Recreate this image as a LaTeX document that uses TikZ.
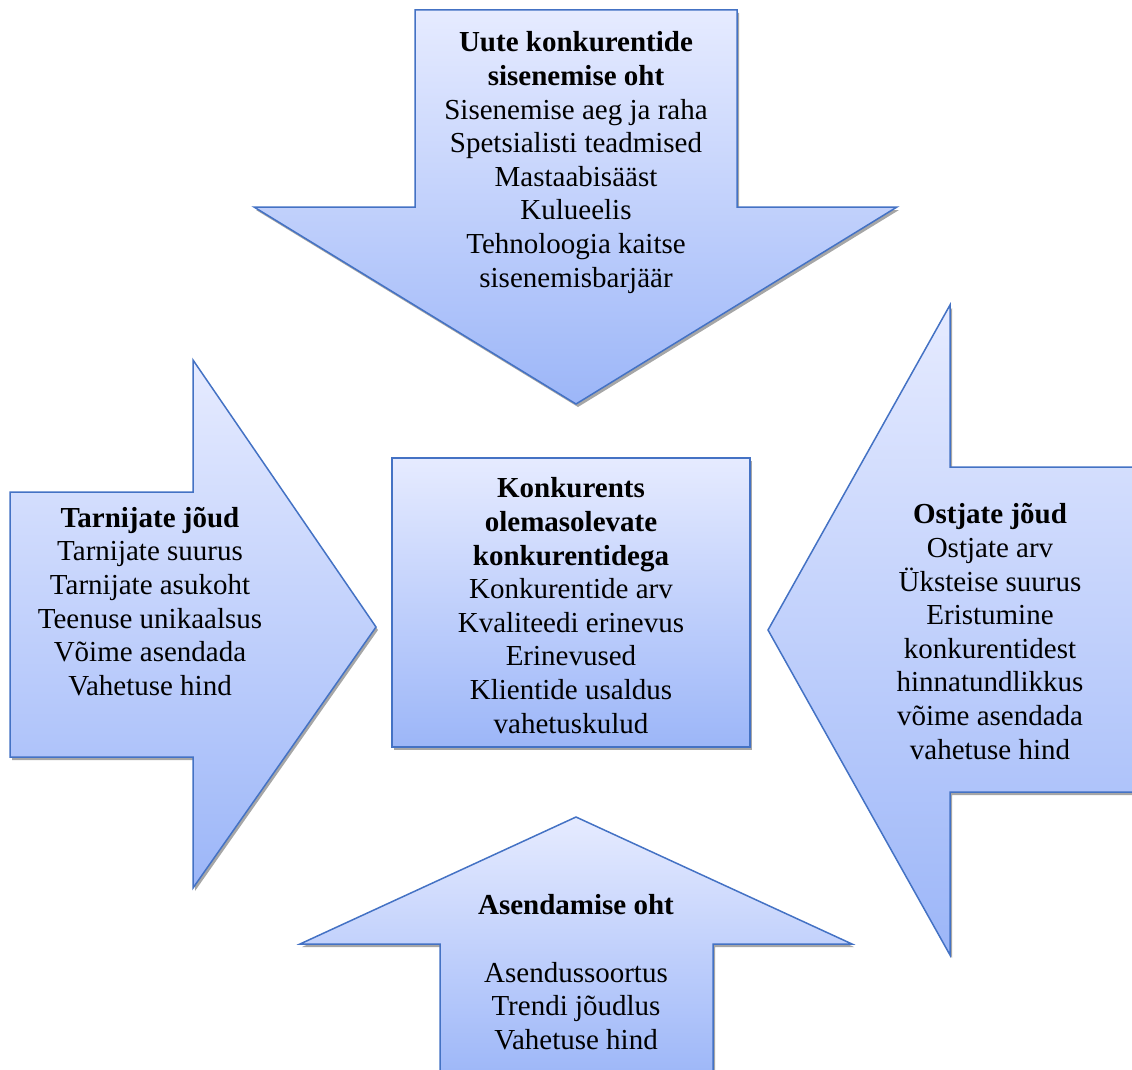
\documentclass[tikz,border=0pt]{standalone}
\usepackage{fontspec}
\setmainfont{Liberation Serif}
\definecolor{edgeblue}{HTML}{4472C4}
\definecolor{ctop}{RGB}{230,235,255}
\definecolor{cbot}{RGB}{156,182,248}
\begin{document}
\begin{tikzpicture}[x=1pt,y=-1pt,
  forceshape/.style={draw=edgeblue, line width=1.5pt, top color=ctop, bottom color=cbot, line join=miter},
  shadowfill/.style={fill=gray!70, shift={(2,3)}},
  txt/.style={align=center, font=\fontsize{29}{33.6}\selectfont, inner sep=0pt}]
\useasboundingbox (0,0) rectangle (1132,1070);
% top arrow
\def\toparrow{(415,10) -- (737,10) -- (737,207) -- (897,207) -- (576,404) -- (254,207) -- (415,207) -- cycle}
\def\leftarrowp{(10,492) -- (193,492) -- (193,360) -- (376,627) -- (193,888) -- (193,757) -- (10,757) -- cycle}
\def\rightarrowp{(1140,467) -- (950,467) -- (950,305) -- (768,630) -- (950,955) -- (950,792) -- (1140,792) -- cycle}
\def\bottomarrowp{(440,1080) -- (440,944) -- (300,944) -- (576,817) -- (852,944) -- (713,944) -- (713,1080) -- cycle}
\def\centerbox{(392,458) rectangle (750,747)}
\fill[shadowfill] \toparrow;
\fill[shadowfill] \leftarrowp;
\fill[shadowfill] \rightarrowp;
\fill[shadowfill] \bottomarrowp;
\fill[shadowfill] \centerbox;
\path[forceshape] \toparrow;
\path[forceshape] \leftarrowp;
\path[forceshape] \rightarrowp;
\path[forceshape] \bottomarrowp;
\path[forceshape] \centerbox;
\node[txt] (top) at (576,162.5) {\textbf{Uute konkurentide}\\\textbf{sisenemise oht}\\Sisenemise aeg ja raha\\Spetsialisti teadmised\\Mastaabisääst\\Kulueelis\\Tehnoloogia kaitse\\sisenemisbarjäär};
\node[txt] (mid) at (571,605.5) {\textbf{Konkurents}\\\textbf{olemasolevate}\\\textbf{konkurentidega}\\Konkurentide arv\\Kvaliteedi erinevus\\Erinevused\\Klientide usaldus\\vahetuskulud};
\node[txt] (left) at (150,601.5) {\textbf{Tarnijate jõud}\\Tarnijate suurus\\Tarnijate asukoht\\Teenuse unikaalsus\\Võime asendada\\Vahetuse hind};
\node[txt] (right) at (990,631.5) {\textbf{Ostjate jõud}\\Ostjate arv\\Üksteise suurus\\Eristumine\\konkurentidest\\hinnatundlikkus\\võime asendada\\vahetuse hind};
\node[txt] (bottitle) at (576,905) {\textbf{Asendamise oht}};
\node[txt] (bot) at (576,1006) {Asendussoortus\\Trendi jõudlus\\Vahetuse hind};
\end{tikzpicture}
\end{document}
